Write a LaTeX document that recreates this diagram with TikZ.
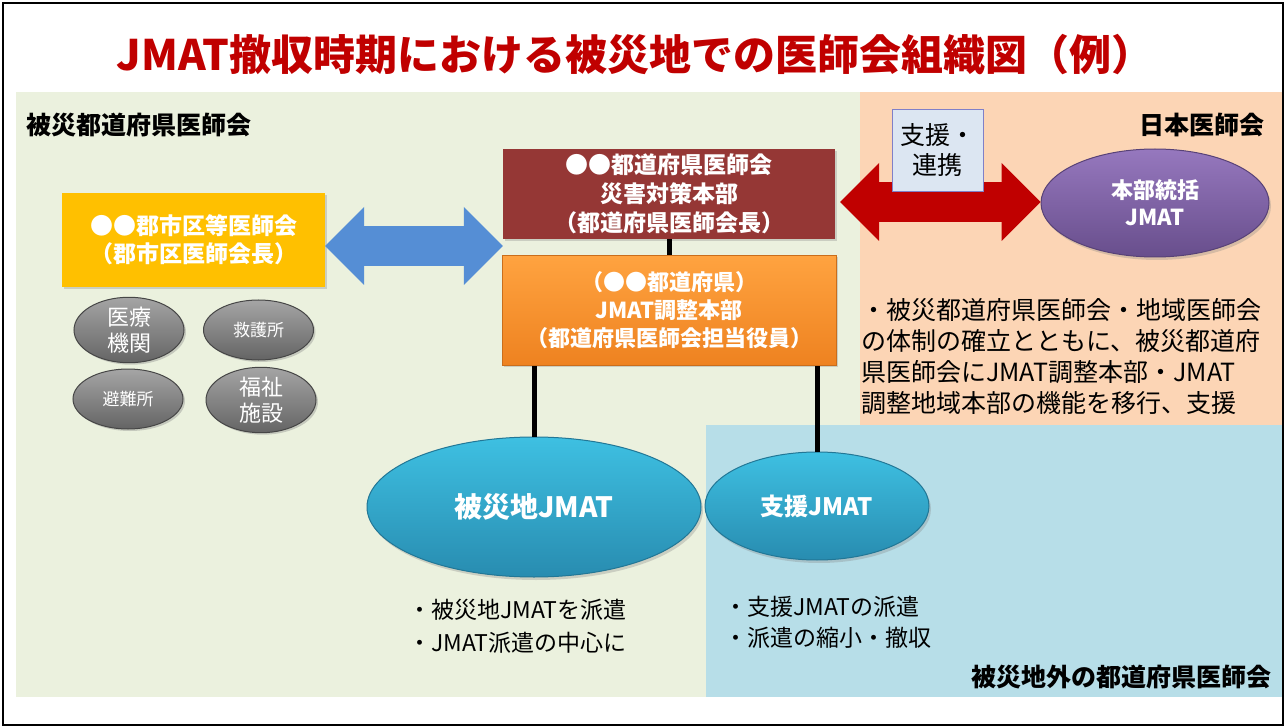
\documentclass[tikz,border=0pt]{standalone}
\usepackage{fontspec}
\setmainfont{Noto Sans CJK JP}
\usepackage{tikz}
\usetikzlibrary{shapes,arrows.meta,positioning,shadows,calc}

\definecolor{titlered}{RGB}{192,0,0}
\definecolor{greenbg}{RGB}{235,241,222}
\definecolor{peachbg}{RGB}{252,213,181}
\definecolor{bluebg}{RGB}{183,222,232}
\definecolor{gunyellow}{RGB}{255,192,0}
\definecolor{cdsred}{RGB}{149,55,53}
\definecolor{adjtop}{RGB}{255,163,64}
\definecolor{adjbot}{RGB}{238,130,32}
\definecolor{arrowblue}{RGB}{85,142,213}
\definecolor{arrowred}{RGB}{192,0,0}
\definecolor{memofill}{RGB}{220,230,242}
\definecolor{memoedge}{RGB}{128,128,200}
\definecolor{hqtop}{RGB}{150,120,190}
\definecolor{hqbot}{RGB}{104,78,140}
\definecolor{jmattop}{RGB}{62,192,226}
\definecolor{jmatbot}{RGB}{40,140,176}
\definecolor{sitetop}{RGB}{165,165,165}
\definecolor{sitebot}{RGB}{100,100,100}

\tikzstyle{block} = [rectangle, text=white, align=center, inner sep=0pt,
    font=\bfseries\fontsize{23}{29}\selectfont,
    drop shadow={shadow xshift=2pt, shadow yshift=-2pt, opacity=0.3}]
\tikzstyle{jmat} = [ellipse, draw=jmatbot!85!black, line width=1pt, top color=jmattop,
    bottom color=jmatbot, text=white, inner sep=0pt,
    drop shadow={shadow xshift=2pt, shadow yshift=-3pt, opacity=0.3}]
\tikzstyle{site} = [ellipse, draw=sitebot!70!black, line width=1pt, top color=sitetop,
    bottom color=sitebot, text=white, align=center, inner sep=0pt,
    minimum width=110, minimum height=60, font=\fontsize{22}{26}\selectfont,
    drop shadow={shadow xshift=2pt, shadow yshift=-2pt, opacity=0.35}]
\tikzstyle{link} = [draw, line width=5pt]
\tikzstyle{wide} = [line width=40pt,
    {Triangle[width=78pt,length=39pt,line width=0pt]}-{Triangle[width=78pt,length=39pt,line width=0pt]}]
\tikzstyle{panel} = [font=\bfseries\fontsize{25}{30}\selectfont, inner sep=0pt]
\tikzstyle{note} = [align=left, inner sep=0pt, font=\fontsize{23}{33}\selectfont]

\begin{document}
\begin{tikzpicture}[x=1pt, y=-1pt, node distance = 16pt]
		\useasboundingbox (0,0) rectangle (1285,727);
		% background panels
		\draw[line width=2pt] (3,3) rectangle (1283,725);
		\fill[greenbg] (16,92) rectangle (860,697);
		\fill[peachbg] (860,92) rectangle (1282,425);
		\fill[bluebg] (706,425) rectangle (1282,697);

		% title and panel labels
		\node[font=\bfseries\fontsize{42}{48}\selectfont, text=titlered] (ttl) at (635,55) {JMAT撤収時期における被災地での医師会組織図（例）};
		\node[panel, anchor=west] (lbg) at (26,125) {被災都道府県医師会};
		\node[panel, anchor=east] (lbj) at (1265,125) {日本医師会};
		\node[panel, anchor=east] (lbo) at (1272,677) {被災地外の都道府県医師会};

		% node placement
		\node[block, fill=gunyellow, minimum width=263, minimum height=94,
		  font=\bfseries\fontsize{23}{28}\selectfont] (gun) at (193.5,240) {●●郡市区等医師会\\（郡市区医師会長）};
		\node[block, fill=cdsred, minimum width=332, minimum height=90] (cds) at (669,194) {●●都道府県医師会\\災害対策本部\\（都道府県医師会長）};
		\node[block, below = of cds, top color=adjtop, bottom color=adjbot, draw=adjbot!85!black,
		  minimum width=334, minimum height=110, font=\bfseries\fontsize{22}{28}\selectfont] (adj) {（●●都道府県）\\JMAT調整本部\\（都道府県医師会担当役員）};

		\node[jmat, minimum width=334, minimum height=140, font=\bfseries\fontsize{28}{32}\selectfont] (jat) at (534,507) {被災地JMAT};
		\node[jmat, minimum width=224, minimum height=108, font=\bfseries\fontsize{24}{28}\selectfont] (sjt) at (817,506) {支援JMAT};

		\node[jmat, draw=hqbot!85!black, top color=hqtop, bottom color=hqbot, align=center,
		  minimum width=228, minimum height=108, font=\bfseries\fontsize{22}{27}\selectfont] (hq) at (1155,203) {本部統括\\JMAT};

		\node[site] (med) at (129,330) {医療\\機関};
		\node[site, font=\fontsize{17}{20}\selectfont] (aid) at (258.5,330) {救護所};
		\node[site, font=\fontsize{17}{20}\selectfont] (eva) at (128,399) {避難所};
		\node[site] (wel) at (261,400) {福祉\\施設};

		% block arrows
		\coordinate (ba) at ($(gun.east)+(0,6)$);
		\coordinate (ra) at ($(cds.east)+(5,8)$);
		\path[draw=arrowblue, wide] (ba) -- (ba -| cds.west);
		\path[draw=arrowred, wide] (ra) -- (ra -| hq.west);
		\node[draw=memoedge, fill=memofill, minimum width=91, minimum height=82, inner sep=0pt,
		  align=center, font=\fontsize{25}{30}\selectfont] (rel) at (937.5,150) {支援・\\連携};

		% connectors
		\path[link] (cds) -- (adj);
		\path[link] (jat.north) -- (jat.north |- adj.south);
		\path[link] (sjt.north) -- (sjt.north |- adj.south);

		% notes
		\node[note, anchor=west] (jatn) at (408,626) {・被災地JMATを派遣\\・JMAT派遣の中心に};
		\node[note, anchor=west, font=\fontsize{23}{31}\selectfont] (sjtn) at (724,622) {・支援JMATの派遣\\・派遣の縮小・撤収};
		\node[note, anchor=west, font=\fontsize{25}{31}\selectfont] (hqn) at (861,357) {・被災都道府県医師会・地域医師会\\の体制の確立とともに、被災都道府\\県医師会にJMAT調整本部・JMAT\\調整地域本部の機能を移行、支援};
\end{tikzpicture}
\end{document}
